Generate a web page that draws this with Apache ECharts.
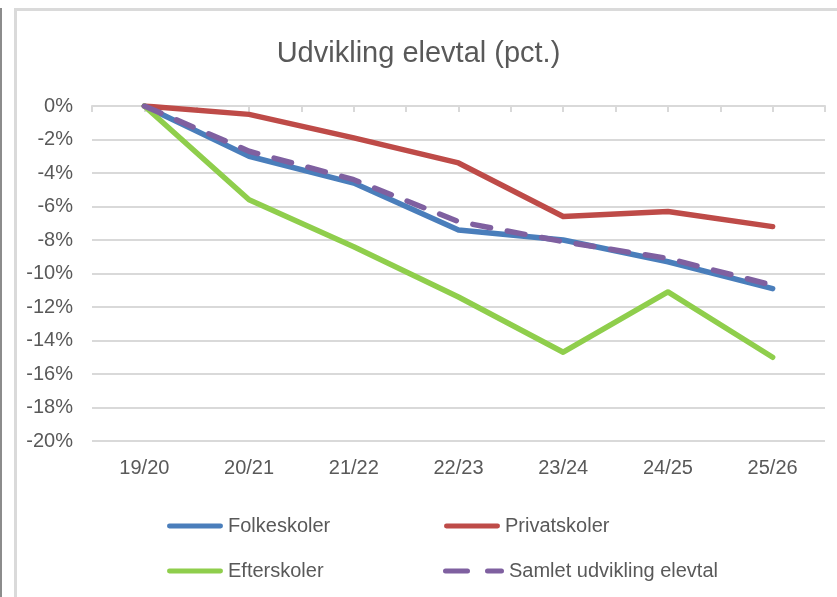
<!DOCTYPE html>
<html>
<head>
<meta charset="utf-8">
<script src="https://cdn.jsdelivr.net/npm/echarts@6/dist/echarts.min.js"></script>
<style>
  html, body { margin: 0; padding: 0; background: #fff; }
  #chart { width: 837px; height: 597px; }
</style>
</head>
<body>
<div id="chart"></div>
<script>
// skoleår
var categories = ['19/20', '20/21', '21/22', '22/23', '23/24', '24/25', '25/26'];
// udvikling i pct. i forhold til 19/20
var folkeskoler = [0, -3.0, -4.6, -7.4, -8.0, -9.3, -10.9];
var privatskoler = [0, -0.5, -1.9, -3.4, -6.6, -6.3, -7.2];
var efterskoler = [0, -5.6, -8.4, -11.4, -14.7, -11.1, -15.0];
var samlet = [0, -2.7, -4.4, -6.9, -8.1, -9.1, -10.7];

var font = 'Liberation Sans';
var grey = '#595959';

var myChart = echarts.init(document.getElementById('chart'));

function line(name, data, color, dash) {
  return {
    name: name,
    type: 'line',
    data: data,
    symbol: 'none',
    xAxisIndex: 0,
    lineStyle: { color: color, width: 5.5, type: dash || 'solid', cap: 'round', join: 'round' },
    itemStyle: { color: color },
    emphasis: { disabled: true }
  };
}

// legende-ikon: tyk streg (eller stiplet for samlet)
var solidIcon = 'path://M2,0 H55 A2.5,2.5 0 0 1 55,5 H2 A2.5,2.5 0 0 1 2,0 Z';
var dashIcon = 'path://M2,0 H24 A2.5,2.5 0 0 1 24,5 H2 A2.5,2.5 0 0 1 2,0 Z M44,0 H58 A2.5,2.5 0 0 1 58,5 H44 A2.5,2.5 0 0 1 44,0 Z';

function legend(name, left, top, icon, w) {
  return {
    data: [{ name: name, icon: icon }],
    left: left,
    top: top,
    itemWidth: w,
    itemHeight: 5,
    textStyle: { fontFamily: font, fontSize: 20, color: grey }
  };
}

option = {
  animation: false,
  title: {
    text: 'Udvikling elevtal (pct.)',
    left: 'center',
    top: 34,
    textStyle: { fontFamily: font, fontSize: 29, fontWeight: 'normal', color: grey }
  },
  graphic: [
    { type: 'rect', shape: { x: 0, y: 8, width: 2, height: 589 }, style: { fill: '#8c8c8c' } },
    { type: 'rect', shape: { x: 14, y: 8, width: 3, height: 589 }, style: { fill: '#dadada' } },
    { type: 'rect', shape: { x: 14, y: 8, width: 823, height: 3 }, style: { fill: '#dadada' } }
  ],
  grid: { left: 92, right: 12, top: 106, bottom: 156 },
  legend: [
    legend('Folkeskoler', 162, 511, solidIcon, 56),
    legend('Privatskoler', 439, 511, solidIcon, 56),
    legend('Efterskoler', 162, 556, solidIcon, 56),
    legend('Samlet udvikling elevtal', 438, 556, dashIcon, 61)
  ],
  xAxis: [
    {
      type: 'category', data: categories, position: 'top', boundaryGap: true,
      axisLine: { lineStyle: { color: '#d9d9d9', width: 2 } },
      axisTick: { show: true, inside: true, length: 6, lineStyle: { color: '#d9d9d9', width: 2 } },
      axisLabel: { show: false }
    },
    {
      type: 'category', data: categories, position: 'top', boundaryGap: true,
      axisLine: { show: false },
      axisTick: { show: true, inside: true, alignWithLabel: true, length: 6, lineStyle: { color: '#d9d9d9', width: 2 } },
      axisLabel: { show: false }
    },
    {
      type: 'category', data: categories, position: 'bottom', boundaryGap: true,
      axisLine: { show: false },
      axisTick: { show: false },
      axisLabel: { margin: 17, fontFamily: font, fontSize: 20, color: grey }
    }
  ],
  yAxis: {
    type: 'value',
    min: -20,
    max: 0,
    interval: 2,
    axisLine: { show: false },
    axisTick: { show: false },
    axisLabel: {
      margin: 19, fontFamily: font, fontSize: 20, color: grey,
      formatter: function (v) { return v + '%'; }
    },
    splitLine: { lineStyle: { color: '#d9d9d9', width: 2 } }
  },
  series: [
    line('Folkeskoler', folkeskoler, '#4a7ebb'),
    line('Privatskoler', privatskoler, '#be4b48'),
    line('Efterskoler', efterskoler, '#8fce4c'),
    line('Samlet udvikling elevtal', samlet, '#7f60a0', [18, 17])
  ]
};

myChart.setOption(option);
</script>
</body>
</html>
